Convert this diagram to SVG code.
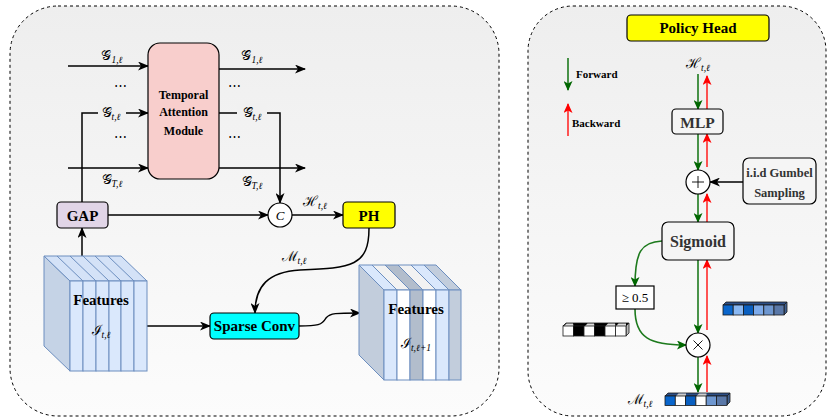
<svg xmlns="http://www.w3.org/2000/svg" width="828" height="420" viewBox="0 0 828 420">
  <style>
    .panel { stroke: #000; stroke-width: 1; stroke-dasharray: 3 3; }
    .ln { fill: none; stroke: #000; stroke-width: 1.5; }
    .gr { fill: none; stroke: #1d7a1d; stroke-width: 1.6; }
    .rd { fill: none; stroke: #ff2a2a; stroke-width: 1.6; }
    .b { font-family: "Liberation Serif", "Times New Roman", serif; font-weight: bold; text-anchor: middle; }
    .dots { font-family: "Liberation Serif", "DejaVu Serif", serif; font-size: 13px; text-anchor: middle; }
    .m { font-family: "Liberation Serif", "DejaVu Serif", serif; font-size: 14px; text-anchor: middle; }
    .sub { font-size: 9.5px; font-style: italic; }
    .cube { stroke: #6c8ebf; stroke-width: 1; }
    .cell { stroke: #1a1a1a; stroke-width: 0.8; }
  </style>
  <defs>
    <linearGradient id="bg" x1="0" y1="0" x2="0" y2="1">
      <stop offset="0" stop-color="#eeeeee"/>
      <stop offset="1" stop-color="#fcfcfc"/>
    </linearGradient>
    <marker id="ah" markerUnits="userSpaceOnUse" markerWidth="11" markerHeight="9" refX="10" refY="4.5" orient="auto">
      <path d="M0,0 L11,4.5 L0,9 L3,4.5 Z" fill="#000"/>
    </marker>
    <marker id="ag" markerUnits="userSpaceOnUse" markerWidth="10" markerHeight="9" refX="9" refY="4.5" orient="auto">
      <path d="M0,0 L10,4.5 L0,9 L2.5,4.5 Z" fill="#006600"/>
    </marker>
    <marker id="ar" markerUnits="userSpaceOnUse" markerWidth="10" markerHeight="9" refX="9" refY="4.5" orient="auto">
      <path d="M0,0 L10,4.5 L0,9 L2.5,4.5 Z" fill="#ff0000"/>
    </marker>
  </defs>

  <!-- panels -->
  <rect class="panel" x="10" y="6" width="489" height="410" rx="48" fill="url(#bg)"/>
  <rect class="panel" x="528" y="6" width="298" height="410" rx="45" fill="url(#bg)"/>

  <!-- ===== left panel: connectors ===== -->
  <g id="connectors-left">
    <line class="ln" x1="68" y1="66" x2="148" y2="66" marker-end="url(#ah)"/>
    <polyline class="ln" points="82,202 82,113 148,113" marker-end="url(#ah)"/>
    <line class="ln" x1="68" y1="168" x2="148" y2="168" marker-end="url(#ah)"/>
    <line class="ln" x1="219" y1="69" x2="305" y2="69" marker-end="url(#ah)"/>
    <polyline class="ln" points="219,113 280,113 280,203" marker-end="url(#ah)"/>
    <line class="ln" x1="219" y1="168" x2="305" y2="168" marker-end="url(#ah)"/>
    <line class="ln" x1="82" y1="256" x2="82" y2="228" marker-end="url(#ah)"/>
    <line class="ln" x1="108" y1="215" x2="268" y2="215" marker-end="url(#ah)"/>
    <line class="ln" x1="292" y1="215" x2="343" y2="215" marker-end="url(#ah)"/>
    <path class="ln" d="M369,228 C369,266 352,268 300,270 C268,272 255,286 255,313" marker-end="url(#ah)"/>
    <line class="ln" x1="147" y1="326" x2="210" y2="326" marker-end="url(#ah)"/>
    <path class="ln" d="M299,326 C318,326 322,325 326,318 C330,313 336,313 360,313" marker-end="url(#ah)"/>
  </g>

  <!-- arrow labels -->
  <g id="labels-left">
    <text class="m" x="112" y="60">𝒢<tspan class="sub" dy="3">1,ℓ</tspan></text>
    <text class="m" x="252" y="60">𝒢̂<tspan class="sub" dy="3">1,ℓ</tspan></text>
    <text class="dots" x="120" y="90">⋯</text>
    <text class="dots" x="234" y="90">⋯</text>
    <text class="dots" x="120" y="141">⋯</text>
    <text class="dots" x="234" y="141">⋯</text>
    <rect x="98" y="104" width="28" height="16" fill="#f1f1f1"/>
    <text class="m" x="111" y="117">𝒢<tspan class="sub" dy="3">t,ℓ</tspan></text>
    <rect x="237" y="104" width="30" height="16" fill="#f1f1f1"/>
    <text class="m" x="252" y="117">𝒢̂<tspan class="sub" dy="3">t,ℓ</tspan></text>
    <text class="m" x="112" y="184">𝒢<tspan class="sub" dy="3">T,ℓ</tspan></text>
    <text class="m" x="252" y="186">𝒢̂<tspan class="sub" dy="3">T,ℓ</tspan></text>
    <text class="m" x="315" y="206">ℋ<tspan class="sub" dy="3">t,ℓ</tspan></text>
    <text class="m" x="294" y="261">ℳ<tspan class="sub" dy="3">t,ℓ</tspan></text>
  </g>

  <!-- ===== left panel: nodes ===== -->
  <g id="tam">
    <rect x="148" y="43" width="71" height="136" rx="12" fill="#f8cecc" stroke="#000" stroke-width="1.2"/>
    <text class="b" x="183.5" y="99" font-size="12">Temporal</text>
    <text class="b" x="183.5" y="116" font-size="12">Attention</text>
    <text class="b" x="183.5" y="135" font-size="12">Module</text>
  </g>

  <g id="gap">
    <rect x="57" y="202" width="51" height="26" rx="4" fill="#e1d5e7" stroke="#000" stroke-width="1.2"/>
    <text class="b" x="82.5" y="220.5" font-size="15">GAP</text>
  </g>

  <g id="concat">
    <circle cx="280" cy="215" r="12" fill="#fff" stroke="#000" stroke-width="1.2"/>
    <text x="280" y="219.5" font-family="Liberation Serif, serif" font-style="italic" font-size="13" text-anchor="middle">C</text>
  </g>

  <g id="ph">
    <rect x="343" y="202" width="52" height="26" rx="4" fill="#ffff00" stroke="#000" stroke-width="1.2"/>
    <text class="b" x="369" y="220.5" font-size="15">PH</text>
  </g>

  <g id="sparse-conv">
    <rect x="210" y="313" width="89" height="26" rx="4" fill="#00ffff" stroke="#000" stroke-width="1.2"/>
    <text class="b" x="254.5" y="331" font-size="15">Sparse Conv</text>
  </g>

  <!-- input feature block -->
  <g id="features-in">
    <polygon class="cube" points="44,256 70,281 70,371 44,346" fill="#c5d3e6"/>
    <polygon class="cube" points="44,256 121,256 147,281 70,281" fill="#d4e2f7"/>
    <g class="cube" fill="none">
      <line x1="57" y1="256" x2="83" y2="281"/>
      <line x1="70" y1="256" x2="96" y2="281"/>
      <line x1="83" y1="256" x2="109" y2="281"/>
      <line x1="95" y1="256" x2="121" y2="281"/>
      <line x1="108" y1="256" x2="134" y2="281"/>
    </g>
    <g class="cube" fill="#dae8fc">
      <rect x="70" y="281" width="13" height="90"/>
      <rect x="83" y="281" width="13" height="90"/>
      <rect x="96" y="281" width="13" height="90"/>
      <rect x="109" y="281" width="12" height="90"/>
      <rect x="121" y="281" width="13" height="90"/>
      <rect x="134" y="281" width="13" height="90"/>
    </g>
    <text class="b" x="101" y="305" font-size="15">Features</text>
    <text class="m" x="101" y="335">ℐ<tspan class="sub" dy="3">t,ℓ</tspan></text>
  </g>

  <!-- output feature block -->
  <g id="features-out">
    <polygon class="cube" points="359,265 384,290 384,380 359,355" fill="#c2cddc"/>
    <polygon class="cube" points="359,265 372,265 397,290 384,290" fill="#dae8fc"/>
    <polygon class="cube" points="372,265 385,265 410,290 397,290" fill="#f2f2f2"/>
    <polygon class="cube" points="385,265 398,265 423,290 410,290" fill="#b2bdcc"/>
    <polygon class="cube" points="398,265 411,265 436,290 423,290" fill="#f2f2f2"/>
    <polygon class="cube" points="411,265 424,265 449,290 436,290" fill="#dae8fc"/>
    <polygon class="cube" points="424,265 436,265 461,290 449,290" fill="#c2cddc"/>
    <rect class="cube" x="384" y="290" width="13" height="90" fill="#dae8fc"/>
    <rect class="cube" x="397" y="290" width="13" height="90" fill="#ffffff"/>
    <rect class="cube" x="410" y="290" width="13" height="90" fill="#b2bdcc"/>
    <rect class="cube" x="423" y="290" width="13" height="90" fill="#ffffff"/>
    <rect class="cube" x="436" y="290" width="13" height="90" fill="#dae8fc"/>
    <rect class="cube" x="449" y="290" width="12" height="90" fill="#c2cddc"/>
    <text class="b" x="416" y="314" font-size="15">Features</text>
    <text class="m" x="416" y="348">ℐ<tspan class="sub" dy="3">t,ℓ+1</tspan></text>
  </g>

  <!-- ===== right panel ===== -->
  <g id="policy-head-title">
    <rect x="627" y="15" width="142" height="26" rx="4" fill="#ffff00" stroke="#000" stroke-width="1.2"/>
    <text class="b" x="698" y="33" font-size="15">Policy Head</text>
  </g>

  <g id="legend">
    <line class="gr" x1="568" y1="58" x2="568" y2="90" marker-end="url(#ag)"/>
    <text class="b" x="576" y="78" font-size="11" style="text-anchor:start">Forward</text>
    <line class="rd" x1="568" y1="136" x2="568" y2="104" marker-end="url(#ar)"/>
    <text class="b" x="572" y="127" font-size="11" style="text-anchor:start">Backward</text>
  </g>

  <g id="connectors-right">
    <line class="gr" x1="698" y1="74" x2="698" y2="109" marker-end="url(#ag)"/>
    <line class="rd" x1="707" y1="109" x2="707" y2="76" marker-end="url(#ar)"/>
    <line class="gr" x1="698" y1="134" x2="698" y2="170" marker-end="url(#ag)"/>
    <line class="rd" x1="707" y1="167" x2="707" y2="134" marker-end="url(#ar)"/>
    <line class="gr" x1="698" y1="194" x2="698" y2="222" marker-end="url(#ag)"/>
    <line class="rd" x1="707" y1="222" x2="707" y2="194" marker-end="url(#ar)"/>
    <line class="gr" x1="698" y1="260" x2="698" y2="333" marker-end="url(#ag)"/>
    <line class="rd" x1="707" y1="330" x2="707" y2="260" marker-end="url(#ar)"/>
    <line class="gr" x1="698" y1="357" x2="698" y2="392" marker-end="url(#ag)"/>
    <line class="rd" x1="707" y1="392" x2="707" y2="356" marker-end="url(#ar)"/>
    <line class="ln" x1="743" y1="182" x2="710" y2="182" marker-end="url(#ah)"/>
    <path class="gr" d="M662,241 C641,242 635,252 635,286" marker-end="url(#ag)"/>
    <path class="gr" d="M635,309 C635,338 650,345 686,345" marker-end="url(#ag)"/>
  </g>

  <text class="m" x="698" y="68">ℋ<tspan class="sub" dy="3">t,ℓ</tspan></text>

  <g id="mlp">
    <rect x="672" y="109" width="51" height="25" rx="4" fill="#f5f5f5" stroke="#000" stroke-width="1.2"/>
    <text class="b" x="697.5" y="127.5" font-size="15.5" fill="#333">MLP</text>
  </g>

  <g id="add">
    <circle cx="698" cy="182" r="12" fill="#fff" stroke="#000" stroke-width="1.2"/>
    <path d="M692,182 H704 M698,176 V188" stroke="#000" stroke-width="0.9"/>
  </g>

  <g id="gumbel">
    <rect x="743" y="158" width="73" height="46" rx="6" fill="#f5f5f5" stroke="#000" stroke-width="1.2"/>
    <text class="b" x="779.5" y="177" font-size="12.5" fill="#333">i.i.d Gumbel</text>
    <text class="b" x="779.5" y="197" font-size="12.5" fill="#333">Sampling</text>
  </g>

  <g id="sigmoid">
    <rect x="662" y="222" width="72" height="38" rx="6" fill="#f5f5f5" stroke="#000" stroke-width="1.2"/>
    <text class="b" x="698" y="246.5" font-size="16" fill="#333">Sigmoid</text>
  </g>

  <g id="threshold">
    <rect x="616" y="286" width="38" height="23" fill="#fff" stroke="#000" stroke-width="1.2"/>
    <text x="635" y="302" font-family="Liberation Serif, DejaVu Serif, serif" font-size="13" text-anchor="middle">≥ 0.5</text>
  </g>

  <g id="multiply">
    <circle cx="698" cy="345" r="12" fill="#fff" stroke="#000" stroke-width="1.2"/>
    <path d="M693.5,340.5 L702.5,349.5 M702.5,340.5 L693.5,349.5" stroke="#000" stroke-width="0.9"/>
  </g>

  <!-- binary mask -->
  <g id="mask-binary" class="cell">
    <polygon points="563,326 566,323 629,323 626,326" fill="#000"/>
    <polygon points="626,326 629,323 629,333 626,336" fill="#bbb"/>
    <polygon points="564,326 566.5,323.5 573,323.5 573.5,326" fill="#ddd" stroke="none"/>
    <polygon points="585,326 587.5,323.5 594,323.5 594.5,326" fill="#ddd" stroke="none"/>
    <polygon points="605.5,326 608,323.5 615,323.5 615.5,326" fill="#ddd" stroke="none"/>
    <polygon points="616,326 618.5,323.5 626,323.5 626,326" fill="#ddd" stroke="none"/>
    <rect x="563" y="326" width="10.5" height="10" fill="#fff"/>
    <rect x="573.5" y="326" width="10.5" height="10" fill="#000"/>
    <rect x="584" y="326" width="10.5" height="10" fill="#fff"/>
    <rect x="594.5" y="326" width="10.5" height="10" fill="#000"/>
    <rect x="605" y="326" width="10.5" height="10" fill="#fff"/>
    <rect x="615.5" y="326" width="10.5" height="10" fill="#fff"/>
  </g>

  <!-- soft mask -->
  <g id="mask-soft" class="cell">
    <polygon points="723,305 726,302 787,302 784,305" fill="#2d4f86"/>
    <polygon points="784,305 787,302 787,312 784,315" fill="#41608f"/>
    <rect x="723" y="305" width="10.2" height="10" fill="#0a66cc"/>
    <rect x="733.2" y="305" width="10.2" height="10" fill="#8ab8f2"/>
    <rect x="743.4" y="305" width="10.2" height="10" fill="#0a5fc0"/>
    <rect x="753.6" y="305" width="10.2" height="10" fill="#7eabea"/>
    <rect x="763.8" y="305" width="10.2" height="10" fill="#6e97d0"/>
    <rect x="774" y="305" width="10" height="10" fill="#5a78a8"/>
  </g>

  <!-- output mask -->
  <g id="mask-out" class="cell">
    <polygon points="665,396 668,393 730,393 727,396" fill="#2d4f86"/>
    <polygon points="727,396 730,393 730,402 727,405" fill="#41608f"/>
    <polygon points="676,396 678.5,393.5 686,393.5 686,396" fill="#ccc" stroke="none"/>
    <polygon points="696.5,396 699,393.5 706.5,393.5 706.5,396" fill="#ccc" stroke="none"/>
    <rect x="665" y="396" width="10.3" height="9.5" fill="#0a66cc"/>
    <rect x="675.3" y="396" width="10.3" height="9.5" fill="#fff"/>
    <rect x="685.6" y="396" width="10.3" height="9.5" fill="#0a5fc0"/>
    <rect x="695.9" y="396" width="10.3" height="9.5" fill="#fff"/>
    <rect x="706.2" y="396" width="10.3" height="9.5" fill="#6e97d0"/>
    <rect x="716.5" y="396" width="10.5" height="9.5" fill="#5a78a8"/>
  </g>

  <text class="m" x="640" y="404" font-size="14">ℳ<tspan class="sub" dy="3">t,ℓ</tspan></text>
</svg>
